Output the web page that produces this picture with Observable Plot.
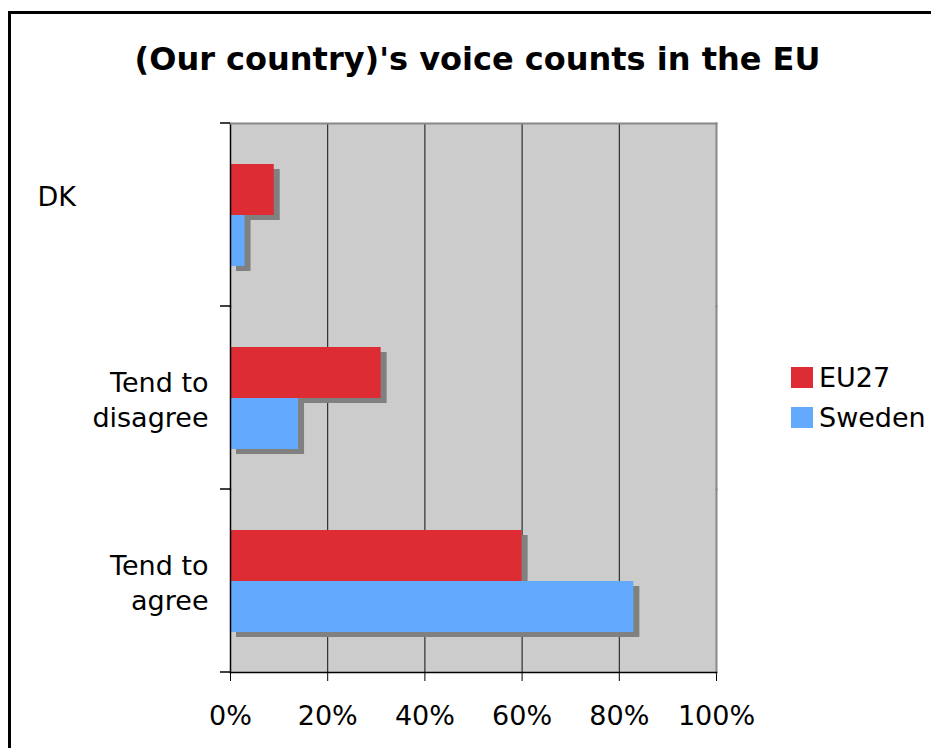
<!DOCTYPE html>
<html><head><meta charset="utf-8">
<script src="https://cdn.jsdelivr.net/npm/d3@7"></script>
<script src="https://cdn.jsdelivr.net/npm/@observablehq/plot@0.6"></script>
<style>
html,body{margin:0;padding:0;background:#fff;overflow:hidden;}
#wrap{position:relative;width:931px;height:748px;overflow:hidden;font-family:"DejaVu Sans",Verdana,sans-serif;color:#000;}
#border{position:absolute;left:8px;top:11px;width:1000px;height:800px;border:3px solid #000;box-sizing:border-box;}
#title{position:absolute;left:0;top:43px;width:955px;text-align:center;font:bold 32px/32px "DejaVu Sans",Verdana,sans-serif;margin:0;}
#chart{position:absolute;left:0;top:100px;}
#legend{position:absolute;left:791px;top:358px;}
.item{display:flex;align-items:center;height:39.5px;font-size:27px;white-space:nowrap;}
.sw{width:22px;height:21px;margin-right:6px;flex:none;}
</style></head>
<body><div id="wrap"><div id="border"></div><div id="title">(Our country)'s voice counts in the EU</div><div id="chart"></div><div id="legend"></div></div>
<script>
const categories = ["DK", "Tend to disagree", "Tend to agree"];
const categoryLabels = ["DK", "Tend to\ndisagree", "Tend to\nagree"];
const series = ["EU27", "Sweden"];
const eu27 = [9, 31, 60];
const sweden = [3, 14, 83];
const xTicks = [0, 20, 40, 60, 80, 100];
const gridTicks = [20, 40, 60, 80];
const colors = ["#DD2C34", "#63AAFF"];

const rows = categories.flatMap((c, i) => [
  {category: c, series: series[0], value: eu27[i]},
  {category: c, series: series[1], value: sweden[i]}
]);
const labels = categories.map((c, i) => ({category: c, label: categoryLabels[i]}));

const plot = Plot.plot({
  width: 760, height: 648,
  marginLeft: 230, marginRight: 44, marginTop: 23, marginBottom: 76,
  style: {fontFamily: '"DejaVu Sans", Verdana, sans-serif', fontSize: "27px", color: "#000", background: "transparent", overflow: "visible"},
  x: {domain: [0, 100], ticks: xTicks, tickFormat: d => d + "%", tickSize: 9, tickPadding: 24, label: null},
  y: {domain: series, axis: null, paddingInner: 0, paddingOuter: 0.76},
  fy: {domain: categories, axis: null, padding: 0},
  color: {domain: series, range: colors},
  marks: [
    Plot.frame({fill: "#cccccc", stroke: null, shapeRendering: "crispEdges"}),
    Plot.ruleX(gridTicks, {stroke: "#111", strokeWidth: 1}),
    Plot.barX(rows, {fy: "category", y: "series", x: "value", fill: "#808080", dx: 6, dy: 5}),
    Plot.barX(rows, {fy: "category", y: "series", x: "value", fill: "series"}),
    Plot.frame({anchor: "left", stroke: "#000", strokeWidth: 1.5}),
    Plot.frame({anchor: "right", stroke: "#888", strokeWidth: 2}),
    Plot.frame({anchor: "top", stroke: "#888", strokeWidth: 2, fy: () => categories[0]}),
    Plot.frame({anchor: "bottom", stroke: "#000", strokeWidth: 1.5, fy: () => categories[categories.length - 1]}),
    Plot.text(labels.filter(d => d.label.includes("\n")), {fy: "category", text: "label", frameAnchor: "left", textAnchor: "end", dx: -22, lineHeight: 1.3}),
    Plot.text(labels.filter(d => !d.label.includes("\n")), {fy: "category", text: "label", frameAnchor: "left", textAnchor: "start", dx: -193, dy: -17.5})
  ]
});
document.getElementById("chart").appendChild(plot);

// small category-boundary ticks on the left axis, from the fy and x scales
const fyS = plot.scale("fy");
const xS = plot.scale("x");
const bounds = categories.map(c => fyS.apply(c));
bounds.push(fyS.apply(categories[categories.length - 1]) + fyS.bandwidth);
const x0 = xS.apply(0);
d3.select(plot).append("g").attr("stroke", "#000").attr("stroke-width", 1.5)
  .selectAll("line").data(bounds).join("line")
  .attr("x1", x0 - 10).attr("x2", x0).attr("y1", d => d).attr("y2", d => d);

// legend from the color scale
const cS = plot.scale("color");
const leg = d3.select("#legend");
series.forEach(s => {
  const it = leg.append("div").attr("class", "item");
  it.append("div").attr("class", "sw").style("background", cS.apply(s));
  it.append("span").text(s);
});
</script>
</body></html>
